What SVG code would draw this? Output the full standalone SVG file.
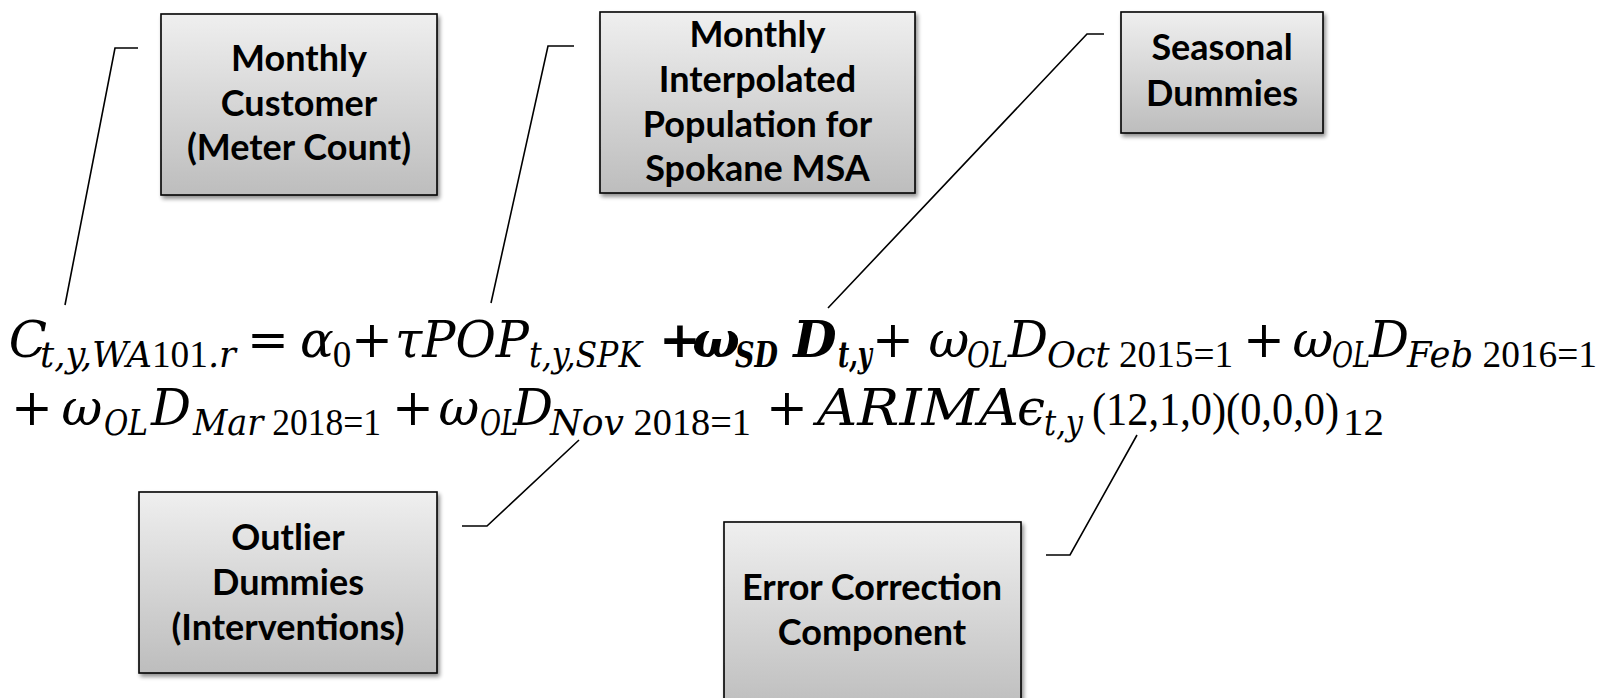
<svg xmlns="http://www.w3.org/2000/svg" width="1608" height="698" viewBox="0 0 1608 698">
<defs>
<linearGradient id="g" x1="0" y1="0" x2="0" y2="1">
<stop offset="0" stop-color="#efefef"/>
<stop offset="1" stop-color="#bdbdbd"/>
</linearGradient>
<filter id="sh" x="-10%" y="-10%" width="130%" height="130%">
<feGaussianBlur in="SourceAlpha" stdDeviation="2"/>
<feOffset dx="2" dy="3" result="o"/>
<feComponentTransfer><feFuncA type="linear" slope="0.45"/></feComponentTransfer>
<feMerge><feMergeNode/><feMergeNode in="SourceGraphic"/></feMerge>
</filter>
</defs>
<style>
.box{fill:url(#g);stroke:#000;stroke-width:1.6;filter:url(#sh)}
.bt{font-family:Lato,"Open Sans",sans-serif;font-weight:700;font-size:36px;text-anchor:middle;fill:#000}
.con{fill:none;stroke:#000;stroke-width:1.6}
.m{font-family:"DejaVu Serif",serif;font-size:50px;font-style:italic;fill:#000}
.s{font-size:35px}
.u{font-style:normal}
.n{font-family:"Liberation Serif",serif;font-style:normal}
.sn{font-size:37px}
.b{font-weight:700}
.c{text-anchor:middle}
</style>
<rect width="1608" height="698" fill="#fff"/>

<g id="connectors">
<path class="con" d="M138,48 H115 L65,305"/>
<path class="con" d="M574,46 H548 L491,303"/>
<path class="con" d="M1104,34 H1087 L828,308"/>
<path class="con" d="M462,526 H487 L579,440"/>
<path class="con" d="M1046,555 H1070 L1137,435"/>
</g>

<g id="node-customer">
<rect class="box" x="161" y="14" width="276" height="181"/>
<text class="bt" x="299" y="71">Monthly</text>
<text class="bt" x="299" y="116">Customer</text>
<text class="bt" x="299" y="160">(Meter Count)</text>
</g>

<g id="node-population">
<rect class="box" x="600" y="12" width="315" height="181"/>
<text class="bt" x="757.5" y="47">Monthly</text>
<text class="bt" x="757.5" y="92">Interpolated</text>
<text class="bt" x="757.5" y="137">Population for</text>
<text class="bt" x="757.5" y="181">Spokane MSA</text>
</g>

<g id="node-seasonal">
<rect class="box" x="1121" y="12" width="202" height="121"/>
<text class="bt" x="1222" y="60">Seasonal</text>
<text class="bt" x="1222" y="106">Dummies</text>
</g>

<g id="node-outlier">
<rect class="box" x="139" y="492" width="298" height="181"/>
<text class="bt" x="288" y="550">Outlier</text>
<text class="bt" x="288" y="595">Dummies</text>
<text class="bt" x="288" y="640">(Interventions)</text>
</g>

<g id="node-error">
<rect class="box" x="724" y="522" width="297" height="190"/>
<text class="bt" x="872" y="600">Error Correction</text>
<text class="bt" x="872" y="645">Component</text>
</g>

<g id="equation">
<text class="m" y="357"><tspan class="c" x="28" y="357">C</tspan><tspan class="s" x="40" y="367" textLength="196" lengthAdjust="spacingAndGlyphs">t,y,WA<tspan class="n sn">101</tspan>.r</tspan><tspan class="u c" x="268" y="357">=</tspan><tspan class="c" x="317" y="357">α</tspan><tspan class="n sn c" x="342" y="367">0</tspan><tspan class="u c" x="372" y="357">+</tspan><tspan x="395" y="357" textLength="134" lengthAdjust="spacingAndGlyphs">τPOP</tspan><tspan class="s" x="529" y="367" textLength="113" lengthAdjust="spacingAndGlyphs">t,y,SPK</tspan><tspan class="u b c" x="680" y="357">+</tspan><tspan class="b c" x="716" y="357">ω</tspan><tspan class="s b" x="735" y="367" textLength="43" lengthAdjust="spacingAndGlyphs">SD</tspan><tspan class="b c" x="815" y="357">D</tspan><tspan class="s b" x="838" y="367" textLength="34" lengthAdjust="spacingAndGlyphs">t,y</tspan><tspan class="u c" x="893" y="357">+</tspan><tspan class="c" x="949" y="357">ω</tspan><tspan class="s" x="967" y="367" textLength="41" lengthAdjust="spacingAndGlyphs">OL</tspan><tspan class="c" x="1028" y="357">D</tspan><tspan class="s" x="1047" y="367" textLength="186" lengthAdjust="spacingAndGlyphs">Oct<tspan class="n sn"> 2015=1</tspan></tspan><tspan class="u c" x="1264" y="357">+</tspan><tspan class="c" x="1313" y="357">ω</tspan><tspan class="s" x="1332" y="367" textLength="38" lengthAdjust="spacingAndGlyphs">OL</tspan><tspan class="c" x="1389" y="357">D</tspan><tspan class="s" x="1407" y="367" textLength="190" lengthAdjust="spacingAndGlyphs">Feb<tspan class="n sn"> 2016=1</tspan></tspan></text>
<text class="m" y="425"><tspan class="u c" x="32" y="425">+</tspan><tspan class="c" x="82" y="425">ω</tspan><tspan class="s" x="104" y="435" textLength="44" lengthAdjust="spacingAndGlyphs">OL</tspan><tspan class="c" x="171" y="425">D</tspan><tspan class="s" x="193" y="435" textLength="188" lengthAdjust="spacingAndGlyphs">Mar<tspan class="n sn"> 2018=1</tspan></tspan><tspan class="u c" x="413" y="425">+</tspan><tspan class="c" x="459" y="425">ω</tspan><tspan class="s" x="480" y="435" textLength="38" lengthAdjust="spacingAndGlyphs">OL</tspan><tspan class="c" x="533" y="425">D</tspan><tspan class="s" x="550" y="435" textLength="201" lengthAdjust="spacingAndGlyphs">Nov<tspan class="n sn"> 2018=1</tspan></tspan><tspan class="u c" x="787" y="425">+</tspan><tspan x="817" y="425" textLength="202" lengthAdjust="spacingAndGlyphs">ARIMA</tspan><tspan class="c" x="1031" y="425">ϵ</tspan><tspan class="s" x="1044" y="435" textLength="39" lengthAdjust="spacingAndGlyphs">t,y</tspan><tspan class="n" x="1092" y="425" font-size="46" textLength="247" lengthAdjust="spacingAndGlyphs">(12,1,0)(0,0,0)</tspan><tspan class="n sn" x="1343" y="435" textLength="41" lengthAdjust="spacingAndGlyphs">12</tspan></text>
</g>
</svg>
